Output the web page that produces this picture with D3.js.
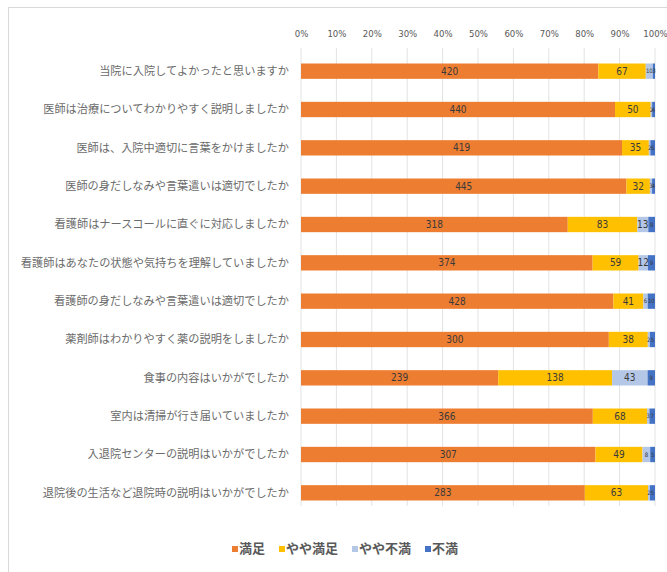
<!DOCTYPE html>
<html>
<head>
<meta charset="utf-8">
<script src="https://cdn.jsdelivr.net/npm/d3@7"></script>
<style>
  body { margin: 0; background: #fff; }
  svg { display: block; }
</style>
</head>
<body>
<svg id="chart" width="667" height="572"></svg>
<script>
// categories and series
const categories = [
  '当院に入院してよかったと思いますか',
  '医師は治療についてわかりやすく説明しましたか',
  '医師は、入院中適切に言葉をかけましたか',
  '医師の身だしなみや言葉遣いは適切でしたか',
  '看護師はナースコールに直ぐに対応しましたか',
  '看護師はあなたの状態や気持ちを理解していましたか',
  '看護師の身だしなみや言葉遣いは適切でしたか',
  '薬剤師はわかりやすく薬の説明をしましたか',
  '食事の内容はいかがでしたか',
  '室内は清掃が行き届いていましたか',
  '入退院センターの説明はいかがでしたか',
  '退院後の生活など退院時の説明はいかがでしたか'
];
const manzoku     = [420, 440, 419, 445, 318, 374, 428, 300, 239, 366, 307, 283];
const yayaManzoku = [67, 50, 35, 32, 83, 59, 41, 38, 138, 68, 49, 63];
const yayaFuman   = [10, 2, 2, 3, 13, 12, 6, 2, 43, 3, 8, 2];
const fuman       = [3, 4, 6, 4, 8, 9, 10, 5, 9, 7, 5, 5];

const seriesNames = ['満足', 'やや満足', 'やや不満', '不満'];
const colors = ['#ED7D31', '#FFC000', '#B4C7E7', '#4472C4'];
const ticks = [0, 0.1, 0.2, 0.3, 0.4, 0.5, 0.6, 0.7, 0.8, 0.9, 1];

const rows = categories.map((c, i) => ({
  cat: c,
  '満足': manzoku[i],
  'やや満足': yayaManzoku[i],
  'やや不満': yayaFuman[i],
  '不満': fuman[i]
}));

const svg = d3.select('#chart');
const narrow = '"Liberation Sans Narrow", "DejaVu Sans Condensed", "Noto Sans CJK JP", sans-serif';
const jp = '"Noto Sans CJK JP", sans-serif';

// chart frame
svg.append('rect')
  .attr('x', 8.5).attr('y', 7.5)
  .attr('width', 680).attr('height', 600)
  .attr('fill', 'none')
  .attr('stroke', '#d9d9d9');

const x = d3.scaleLinear().domain([0, 1]).range([301, 655]);
const y = d3.scaleBand()
  .domain(categories)
  .range([52, 512])
  .paddingInner(0.6)
  .paddingOuter(0.3);

// gridlines
svg.append('g')
  .selectAll('line')
  .data(ticks)
  .join('line')
  .attr('x1', d => x(d)).attr('x2', d => x(d))
  .attr('y1', 48).attr('y2', 506)
  .attr('stroke', '#e3e3e3')
  .attr('stroke-width', 1);

// top axis
const axis = svg.append('g')
  .attr('transform', 'translate(0,40)')
  .call(d3.axisTop(x).tickValues(ticks).tickFormat(d3.format('.0%')).tickSize(0).tickPadding(3));
axis.select('.domain').remove();
axis.selectAll('text')
  .attr('fill', '#595959')
  .attr('font-size', 9.5)
  .attr('font-family', narrow);

// stacked percent bars
const stacked = d3.stack()
  .keys(seriesNames)
  .offset(d3.stackOffsetExpand)(rows);

const layers = svg.append('g')
  .selectAll('g')
  .data(stacked)
  .join('g')
  .attr('fill', (d, i) => colors[i]);

layers.selectAll('rect')
  .data(d => d)
  .join('rect')
  .attr('x', d => x(d[0]))
  .attr('y', d => y(d.data.cat))
  .attr('width', d => x(d[1]) - x(d[0]))
  .attr('height', y.bandwidth());

// data labels (tiny segments get a smaller font, as they crowd together)
stacked.forEach(layer => {
  svg.append('g')
    .selectAll('text')
    .data(layer)
    .join('text')
    .attr('x', d => (x(d[0]) + x(d[1])) / 2)
    .attr('y', d => y(d.data.cat) + y.bandwidth() / 2)
    .attr('dy', '0.35em')
    .attr('text-anchor', 'middle')
    .attr('font-size', d => (x(d[1]) - x(d[0]) < 8 ? 6 : 10))
    .attr('font-family', narrow)
    .attr('fill', '#3a3a3a')
    .text(d => d.data[layer.key]);
});

// category labels
svg.append('g')
  .selectAll('text')
  .data(categories)
  .join('text')
  .attr('x', 289)
  .attr('y', d => y(d) + y.bandwidth() / 2)
  .attr('dy', '0.35em')
  .attr('text-anchor', 'end')
  .attr('font-size', 11.2)
  .attr('font-family', jp)
  .attr('fill', '#6b6b6b')
  .text(d => d);

// legend
const legend = svg.append('g').attr('transform', 'translate(0,548)');
const items = legend.selectAll('g')
  .data(seriesNames)
  .join('g');
items.append('rect')
  .attr('width', 6).attr('height', 6)
  .attr('y', -2)
  .attr('fill', (d, i) => colors[i]);
items.append('text')
  .attr('x', 7)
  .attr('dy', '0.35em')
  .attr('font-size', 13)
  .attr('font-weight', 'bold')
  .attr('font-family', jp)
  .attr('fill', '#595959')
  .text(d => d);

let cx = 0;
const widths = [];
items.each(function () { widths.push(this.getBBox().width); });
const gap = 14;
const total = d3.sum(widths) + gap * (widths.length - 1);
cx = 345 - total / 2;
items.attr('transform', (d, i) => {
  const t = `translate(${cx},0)`;
  cx += widths[i] + gap;
  return t;
});
</script>
</body>
</html>
